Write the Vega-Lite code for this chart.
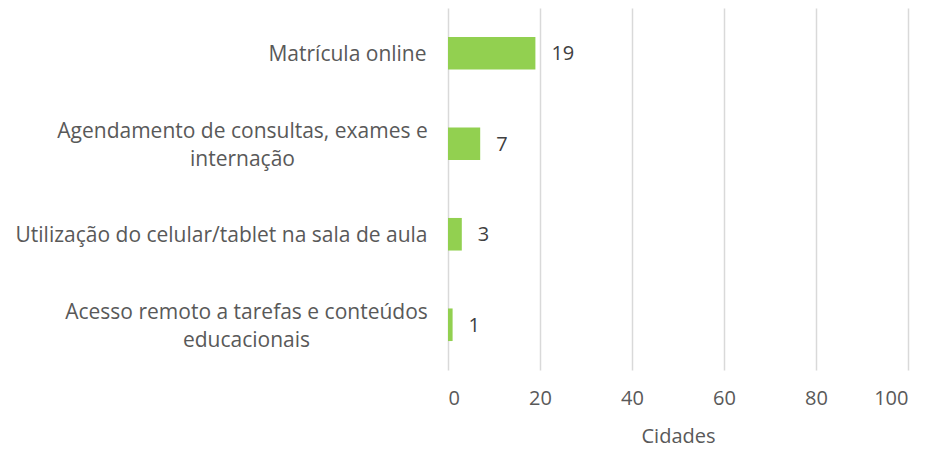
{
  "$schema": "https://vega.github.io/schema/vega-lite/v6.json",
  "width": 460,
  "height": 362,
  "autosize": {"type": "none"},
  "padding": {"left": 448, "top": 8, "right": 21, "bottom": 81},
  "background": "white",
  "config": {
    "view": {"stroke": null},
    "font": "Open Sans"
  },
  "data": {
    "values": [
      {"categoria": "Matrícula online", "cidades": 19},
      {"categoria": "Agendamento de consultas, exames e internação", "cidades": 7},
      {"categoria": "Utilização do celular/tablet na sala de aula", "cidades": 3},
      {"categoria": "Acesso remoto a tarefas e conteúdos educacionais", "cidades": 1}
    ]
  },
  "encoding": {
    "y": {
      "field": "categoria",
      "type": "nominal",
      "sort": null,
      "scale": {"paddingInner": 0.64, "paddingOuter": 0.32},
      "axis": {
        "title": null,
        "domain": false,
        "ticks": false,
        "labelFontSize": 21,
        "labelColor": "#595959",
        "labelAlign": "center",
        "labelBaseline": "middle",
        "labelPadding": {
          "condition": [
            {"test": "datum.value == 'Matrícula online'", "value": 101},
            {"test": "datum.value == 'Utilização do celular/tablet na sala de aula'", "value": 227},
            {"test": "datum.value == 'Acesso remoto a tarefas e conteúdos educacionais'", "value": 202}
          ],
          "value": 206
        },
        "labelOffset": {
          "condition": [
            {"test": "datum.value == 'Agendamento de consultas, exames e internação' || datum.value == 'Acesso remoto a tarefas e conteúdos educacionais'", "value": -12}
          ],
          "value": 2
        },
        "labelLimit": 600,
        "labelLineHeight": 28,
        "labelExpr": "datum.value == 'Agendamento de consultas, exames e internação' ? ['Agendamento de consultas, exames e', 'internação'] : datum.value == 'Acesso remoto a tarefas e conteúdos educacionais' ? ['Acesso remoto a tarefas e conteúdos', 'educacionais'] : datum.value"
      }
    },
    "x": {
      "field": "cidades",
      "type": "quantitative",
      "scale": {"domain": [0, 100]},
      "axis": {
        "title": "Cidades",
        "titleFontSize": 20,
        "titleFontWeight": "normal",
        "titleColor": "#595959",
        "titlePadding": 18,
        "values": [0, 20, 40, 60, 80, 100],
        "domain": false,
        "ticks": false,
        "labelFontSize": 20,
        "labelColor": "#595959",
        "labelPadding": 18,
        "grid": true,
        "gridColor": "#d9d9d9",
        "gridWidth": 1.5
      }
    }
  },
  "layer": [
    {"mark": {"type": "bar", "color": "#92d050"}},
    {
      "mark": {"type": "text", "align": "left", "baseline": "middle", "dx": 16, "dy": 1, "fontSize": 20, "color": "#404040"},
      "encoding": {"text": {"field": "cidades", "type": "quantitative"}}
    }
  ]
}
